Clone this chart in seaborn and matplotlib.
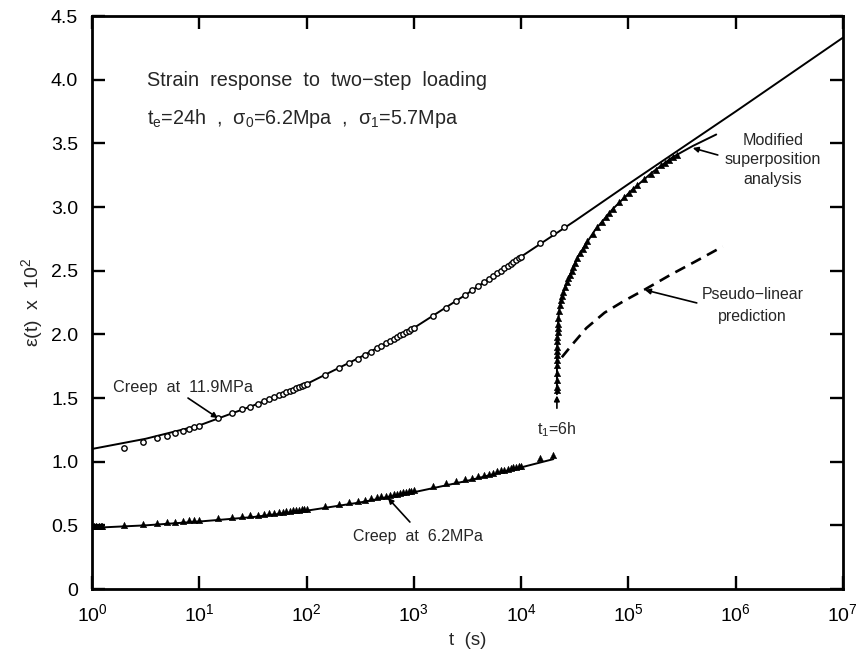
import numpy as np
import pandas as pd
import matplotlib
matplotlib.use("Agg")
import matplotlib.pyplot as plt
import seaborn as sns

# ---- creep at 11.9 MPa: model curve and measured points ----
t_high_fit = [1, 3.16, 10, 31.6, 100, 316, 1000, 3162, 1e4, 31623, 1e5, 316228, 1e6, 3162278, 1e7]
eps_high_fit = [1.10, 1.18, 1.285, 1.44, 1.61, 1.82, 2.05, 2.32, 2.61, 2.89, 3.18, 3.465, 3.75, 4.04, 4.33]

t_high_pts = [2, 3, 4, 5, 6, 7, 8, 9, 10,
              15, 20, 25, 30, 35, 40, 45, 50, 55, 60, 65, 70, 75, 80, 85, 90, 95, 100,
              150, 200, 250, 300, 350, 400, 450, 500, 550, 600, 650, 700, 750, 800, 850, 900, 950, 1000,
              1500, 2000, 2500, 3000, 3500, 4000, 4500, 5000, 5500, 6000, 6500, 7000, 7500, 8000,
              8500, 9000, 9500, 10000, 15000, 20000, 25000]
eps_high_pts = [1.11, 1.155, 1.185, 1.205, 1.225, 1.24, 1.255, 1.27, 1.28,
                1.34, 1.38, 1.41, 1.433, 1.455, 1.475, 1.49, 1.51, 1.52, 1.535, 1.545, 1.555, 1.565,
                1.575, 1.585, 1.595, 1.60, 1.61,
                1.68, 1.735, 1.775, 1.81, 1.84, 1.865, 1.89, 1.91, 1.93, 1.95, 1.965, 1.98, 1.995,
                2.005, 2.02, 2.03, 2.04, 2.05,
                2.145, 2.21, 2.265, 2.31, 2.345, 2.38, 2.41, 2.435, 2.46, 2.48, 2.50, 2.52, 2.54,
                2.555, 2.57, 2.585, 2.60, 2.61, 2.72, 2.80, 2.84]

# ---- creep at 6.2 MPa: model curve and measured points ----
t_low_fit = [1, 3.16, 10, 31.6, 100, 316, 1000, 3162, 10000, 20000]
eps_low_fit = [0.48, 0.50, 0.53, 0.565, 0.615, 0.68, 0.76, 0.85, 0.955, 1.02]

t_low_pts = [1, 1.05, 1.1, 1.15, 1.2, 1.25,
             2, 3, 4, 5, 6, 7, 8, 9, 10,
             15, 20, 25, 30, 35, 40, 45, 50, 55, 60, 65, 70, 75, 80, 85, 90, 95, 100,
             150, 200, 250, 300, 350, 400, 450, 500, 550, 600, 650, 700, 750, 800, 850, 900, 950, 1000,
             1500, 2000, 2500, 3000, 3500, 4000, 4500, 5000, 5500, 6000, 6500, 7000, 7500, 8000,
             8500, 9000, 9500, 10000, 15000, 20000]
eps_low_pts = [0.495, 0.495, 0.496, 0.497, 0.497, 0.498,
               0.505, 0.51, 0.52, 0.525, 0.53, 0.535, 0.54, 0.54, 0.545,
               0.557, 0.566, 0.573, 0.578, 0.584, 0.590, 0.595, 0.600, 0.604, 0.608, 0.611, 0.615,
               0.617, 0.620, 0.623, 0.625, 0.628, 0.630,
               0.653, 0.669, 0.682, 0.692, 0.702, 0.711, 0.719, 0.727, 0.733, 0.739, 0.745, 0.750,
               0.755, 0.759, 0.764, 0.768, 0.771, 0.775,
               0.807, 0.829, 0.847, 0.861, 0.874, 0.886, 0.897, 0.907, 0.915, 0.923, 0.931, 0.937,
               0.944, 0.950, 0.955, 0.960, 0.965, 0.970, 1.03, 1.05]

# ---- second step (after t1 = 6 h) ----
t1 = 21600
dt_step_pts = [1, 2, 5, 10, 20, 30, 50, 70, 100, 150, 200, 300, 400, 500, 700, 1000, 1500, 2000,
               2500, 3000, 4000, 5000, 6000, 7000, 8000, 9000, 10000, 12000, 14000, 16000, 18000,
               20000, 25000, 30000, 35000, 40000, 45000, 50000, 60000, 70000, 80000, 90000, 100000,
               120000, 140000, 160000, 180000, 200000, 220000, 240000, 260000]
eps_step_pts = [1.56, 1.59, 1.64, 1.70, 1.76, 1.80, 1.84, 1.87, 1.90, 1.95, 1.98, 2.02, 2.05, 2.08,
                2.13, 2.18, 2.23, 2.27, 2.30, 2.33, 2.37, 2.41, 2.44, 2.47, 2.50, 2.53, 2.56, 2.60,
                2.64, 2.67, 2.70, 2.73, 2.79, 2.84, 2.88, 2.92, 2.95, 2.985, 3.04, 3.08, 3.11, 3.14,
                3.17, 3.22, 3.26, 3.29, 3.33, 3.35, 3.37, 3.395, 3.41]

# modified superposition analysis
dt_modsup = [1, 10, 100, 500, 1000, 2000, 4100, 7400, 12300, 19400, 27400, 49200, 85400,
             144000, 235000, 378000, 639000]
eps_modsup = [1.53, 1.70, 1.90, 2.08, 2.18, 2.27, 2.37, 2.48, 2.61, 2.72, 2.82, 2.98, 3.13,
              3.27, 3.39, 3.48, 3.57]

# pseudo-linear prediction
t_pseudo = [24000, 30000, 40700, 60000, 90000, 141000, 250000, 417000, 759000]
eps_pseudo = [1.82, 1.92, 2.05, 2.17, 2.26, 2.35, 2.47, 2.57, 2.69]

xticks = [1, 10, 100, 1e3, 1e4, 1e5, 1e6, 1e7]
xtick_labels = [r"$\mathregular{10^{%d}}$" % k for k in range(8)]
yticks = [0, 0.5, 1.0, 1.5, 2.0, 2.5, 3.0, 3.5, 4.0, 4.5]
ytick_labels = ["0", "0.5", "1.0", "1.5", "2.0", "2.5", "3.0", "3.5", "4.0", "4.5"]

sns.set_theme(style="ticks")
plt.rcParams["font.family"] = ["Liberation Sans", "DejaVu Sans"]
plt.rcParams["mathtext.fontset"] = "custom"
plt.rcParams["mathtext.rm"] = "Liberation Sans"
plt.rcParams["mathtext.it"] = "Liberation Sans:italic"

fig = plt.figure(figsize=(8.6, 6.57), dpi=100)
ax = fig.add_axes([0.107, 0.1035, 0.873, 0.872])
ax.set_xscale("log")

line_kw = dict(color="black", lw=1.4, estimator=None, sort=False, ax=ax, legend=False)

sns.lineplot(x=t_high_fit, y=eps_high_fit, **line_kw)
sns.lineplot(x=t_low_fit, y=eps_low_fit, **line_kw)
sns.lineplot(x=[t1 + d for d in dt_modsup], y=eps_modsup, **line_kw)
sns.lineplot(x=t_pseudo, y=eps_pseudo, color="black", lw=1.9, estimator=None, sort=False,
             ax=ax, legend=False, linestyle=(0, (4.2, 2.6)))

sns.scatterplot(x=t_high_pts, y=eps_high_pts, marker="o", s=15, facecolor="white",
                edgecolor="black", linewidth=1.0, ax=ax, zorder=3, legend=False)
sns.scatterplot(x=t_low_pts, y=eps_low_pts, marker="^", s=22, color="black",
                edgecolor="black", linewidth=0.3, ax=ax, zorder=3, legend=False)
sns.scatterplot(x=[t1 + d for d in dt_step_pts], y=eps_step_pts, marker="^", s=22,
                color="black", edgecolor="black", linewidth=0.3, ax=ax, zorder=3, legend=False)

ax.set_xlim(1, 1e7)
ax.set_ylim(0, 4.5)
ax.set_xticks(xticks)
ax.set_xticklabels(xtick_labels)
ax.set_yticks(yticks)
ax.set_yticklabels(ytick_labels)
ax.minorticks_off()
ax.tick_params(axis="both", which="major", direction="in", length=9.5, width=1.7,
               labelsize=14, top=True, right=True, colors="black")
ax.tick_params(axis="x", pad=10)
ax.tick_params(axis="y", pad=10)
for sp in ax.spines.values():
    sp.set_linewidth(2.0)
    sp.set_color("black")

ax.set_xlabel("t  (s)", fontsize=13.5, labelpad=5)
ax.set_ylabel(r"ε(t)  x  10$^\mathregular{2}$", fontsize=14, labelpad=4)

ax.text(0.073, 0.887, "Strain  response  to  two−step  loading", transform=ax.transAxes,
        fontsize=14.3, va="center", ha="left")
ax.text(0.073, 0.822,
        r"t$_\mathregular{e}$=24h  ,  σ$_\mathregular{0}$=6.2Mpa  ,  σ$_\mathregular{1}$=5.7Mpa",
        transform=ax.transAxes, fontsize=14.2, va="center", ha="left")

arrow = dict(arrowstyle="-|>", color="black", lw=1.2, mutation_scale=8, shrinkA=0, shrinkB=0)

ax.text(0.028, 0.351, "Creep  at  11.9MPa", transform=ax.transAxes, fontsize=11.7,
        va="center", ha="left")
ax.annotate("", xy=(14.9, 1.343), xytext=(7.85, 1.50), arrowprops=arrow)

ax.text(0.3475, 0.0908, "Creep  at  6.2MPa", transform=ax.transAxes, fontsize=11.5,
        va="center", ha="left")
ax.annotate("", xy=(574, 0.715), xytext=(920, 0.526), arrowprops=arrow)

ax.text(0.619, 0.2775, r"t$_\mathregular{1}$=6h", transform=ax.transAxes, fontsize=11.5,
        va="center", ha="center")
ax.annotate("", xy=(t1, 1.52), xytext=(t1, 1.42), arrowprops=arrow)

ax.text(0.907, 0.749, "Modified\nsuperposition\nanalysis", transform=ax.transAxes,
        fontsize=11.6, va="center", ha="center", linespacing=1.4)
ax.annotate("", xy=(3.99e5, 3.464), xytext=(6.83e5, 3.409), arrowprops=arrow)

ax.text(0.880, 0.495, "Pseudo−linear\nprediction", transform=ax.transAxes,
        fontsize=11.4, va="center", ha="center", linespacing=1.55)
ax.annotate("", xy=(1.43e5, 2.349), xytext=(4.35e5, 2.247), arrowprops=arrow)

fig.savefig("out.png", dpi=100, facecolor="white")
